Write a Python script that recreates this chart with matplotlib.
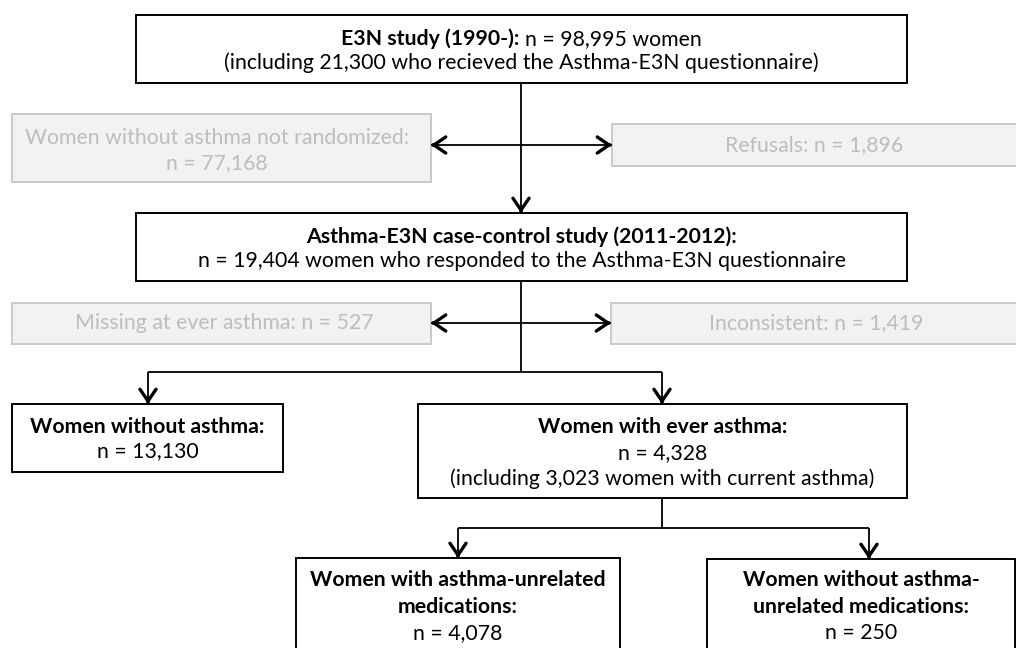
import matplotlib
matplotlib.use('Agg')
import matplotlib.pyplot as plt
from matplotlib.patches import Rectangle

plt.rcParams['font.family'] = ['Lato', 'DejaVu Sans']

# ---------------- content ----------------
top_lines = [[("E3N study (1990-):", True), ("n = 98,995 women", False)],
             [("(including 21,300 who recieved the Asthma-E3N questionnaire)", False)]]
excl1_left = [[("Women without asthma not randomized:", False)], [("n = 77,168", False)]]
excl1_right = [[("Refusals: n = 1,896", False)]]
case_lines = [[("Asthma-E3N case-control study (2011-2012):", True)],
              [("n = 19,404 women who responded to the Asthma-E3N questionnaire", False)]]
excl2_left = [[("Missing at ever asthma: n = 527", False)]]
excl2_right = [[("Inconsistent: n = 1,419", False)]]
no_asthma = [[("Women without asthma:", True)], [("n = 13,130", False)]]
ever_asthma = [[("Women with ever asthma:", True)], [("n = 4,328", False)],
               [("(including 3,023 women with current asthma)", False)]]
with_med = [[("Women with asthma-unrelated", True)], [("medications:", True)],
            [("n = 4,078", False)]]
without_med = [[("Women without asthma-", True)], [("unrelated medications:", True)],
               [("n = 250", False)]]

# ---------------- layout (pixels) ----------------
W, H = 1016, 648
fig = plt.figure(figsize=(W / 100, H / 100), dpi=100)
ax = fig.add_axes([0, 0, 1, 1])
ax.set_xlim(0, W)
ax.set_ylim(H, 0)
ax.axis('off')

FS = 15.3
BLACK = '#000000'
GREY_TXT = '#bdbdbd'
GREY_FILL = '#f2f2f2'
GREY_EDGE = '#c9c9c9'

renderer = fig.canvas.get_renderer()


def text_width(s, bold):
    t = ax.text(0, 0, s, fontsize=FS, fontweight='bold' if bold else 'normal')
    bb = t.get_window_extent(renderer=renderer)
    t.remove()
    return bb.width


def draw_line(cx, y, parts, color):
    gap = 5.0
    widths = [text_width(s, b) for s, b in parts]
    total = sum(widths) + gap * (len(parts) - 1)
    x = cx - total / 2
    for (s, b), w in zip(parts, widths):
        ax.text(x, y, s, fontsize=FS, fontweight='bold' if b else 'normal',
                color=color, ha='left', va='center')
        x += w + gap


def box(x0, y0, x1, y1, lines, ys, grey=False, cx=None):
    if grey:
        ax.add_patch(Rectangle((x0, y0), x1 - x0, y1 - y0, facecolor=GREY_FILL,
                               edgecolor=GREY_EDGE, lw=1.4))
        col = GREY_TXT
    else:
        ax.add_patch(Rectangle((x0, y0), x1 - x0, y1 - y0, facecolor='white',
                               edgecolor=BLACK, lw=1.4))
        col = BLACK
    if cx is None:
        cx = (x0 + x1) / 2
    for parts, y in zip(lines, ys):
        draw_line(cx, y, parts, col)


def seg(xs, ys):
    ax.plot(xs, ys, color=BLACK, lw=1.3, solid_capstyle='butt', zorder=3)


def head(x, y, dx, dy):
    # arrow head pointing in direction (dx, dy) with tip at (x, y)
    ax.annotate('', xy=(x, y), xytext=(x - dx * 2, y - dy * 2),
                arrowprops=dict(arrowstyle='->,head_length=0.85,head_width=0.58',
                                mutation_scale=10, lw=2.4, color=BLACK,
                                shrinkA=0, shrinkB=0, capstyle='round',
                                joinstyle='miter'), zorder=4)


# boxes
box(136, 15, 907, 83, top_lines, [39, 63])
box(12, 114, 431, 182, excl1_left, [138, 163], grey=True, cx=217)
box(612, 124, 1030, 166, excl1_right, [145], grey=True, cx=814)
box(136, 213, 907, 281, case_lines, [237, 261])
box(12, 303, 431, 344, excl2_left, [323], grey=True, cx=224)
box(611, 303, 1030, 344, excl2_right, [323], grey=True, cx=816)
box(12, 404, 283, 472, no_asthma, [427, 451])
box(418, 404, 907, 498, ever_asthma, [427, 453, 479])
box(296, 558, 620, 670, with_med, [580, 607, 633])
box(707, 559, 1015, 670, without_med, [580, 607, 633])

# connectors
seg([521, 521], [83, 213])
head(521, 213, 0, 1)
seg([431, 612], [145, 145])
head(431, 145, -1, 0)
head(612, 145, 1, 0)

seg([521, 521], [281, 372])
seg([431, 611], [323, 323])
head(431, 323, -1, 0)
head(611, 323, 1, 0)
seg([148, 662], [372, 372])
seg([148, 148], [372, 404])
seg([662, 662], [372, 404])
head(148, 404, 0, 1)
head(662, 404, 0, 1)

seg([662, 662], [498, 528])
seg([458, 869], [528, 528])
seg([458, 458], [528, 558])
seg([869, 869], [528, 559])
head(458, 558, 0, 1)
head(869, 559, 0, 1)

fig.savefig('out.png', dpi=100)
